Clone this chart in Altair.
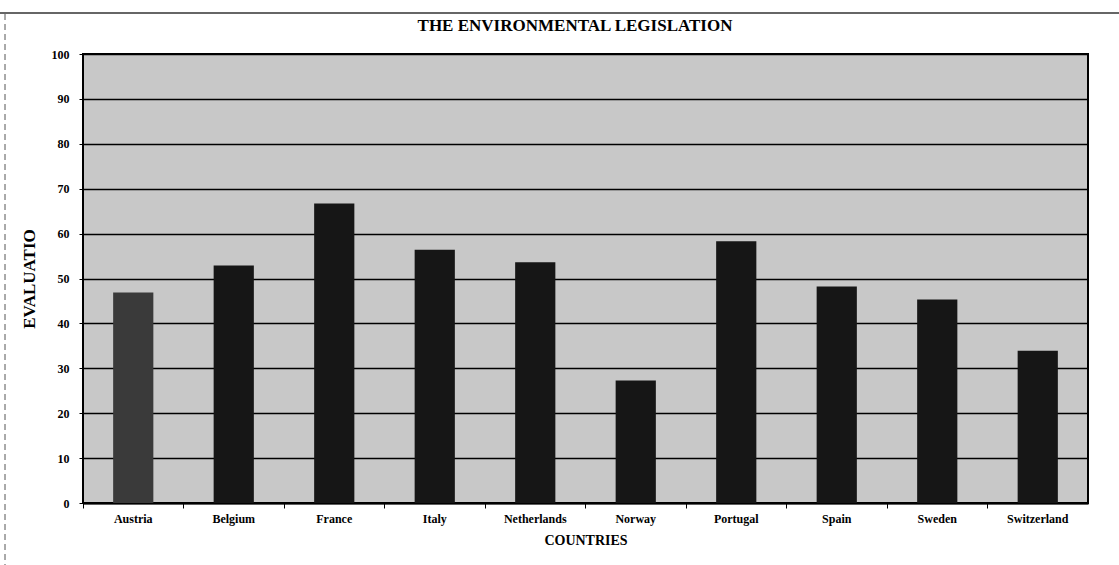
import altair as alt
import pandas as pd

countries = ["Austria", "Belgium", "France", "Italy", "Netherlands",
             "Norway", "Portugal", "Spain", "Sweden", "Switzerland"]
values = [46.9, 52.9, 66.7, 56.4, 53.6, 27.3, 58.3, 48.2, 45.3, 33.9]
y_ticks = [0, 10, 20, 30, 40, 50, 60, 70, 80, 90, 100]
title_text = "THE ENVIRONMENTAL LEGISLATION"

df = pd.DataFrame({"country": countries, "value": values})

FONT = "Liberation Serif"

x_scale = alt.Scale(domain=countries, paddingInner=0, paddingOuter=0)
y_scale = alt.Scale(domain=[0, 100], nice=False)

bars = alt.Chart(df).mark_bar(width=alt.RelativeBandSize(0.4)).encode(
    x=alt.X("country:N", scale=x_scale, sort=countries,
            axis=alt.Axis(orient="bottom", title="COUNTRIES", ticks=False,
                          labelAngle=0, labelFont=FONT, labelFontWeight="bold",
                          labelFontSize=12, labelColor="black", labelPadding=10,
                          titleFont=FONT, titleFontWeight="bold", titleFontSize=14,
                          titleColor="black", titlePadding=9,
                          domain=True, domainColor="black", domainWidth=2)),
    y=alt.Y("value:Q", scale=y_scale,
            axis=alt.Axis(values=y_ticks, title="EVALUATIO", grid=True,
                          gridColor="black", gridWidth=1.6, gridOpacity=1,
                          domain=False, tickSize=4, tickColor="black",
                          labelFont=FONT, labelFontWeight="bold", labelFontSize=12,
                          labelColor="black", labelPadding=10,
                          titleFont=FONT, titleFontWeight="bold", titleFontSize=17,
                          titleColor="black", titlePadding=13)),
    color=alt.condition(alt.datum.country == "Austria",
                        alt.value("#3a3a3a"), alt.value("#161616")),
)

ticks = alt.Chart(df).mark_bar(opacity=0).encode(
    x=alt.X("country:N", scale=x_scale, sort=countries,
            axis=alt.Axis(orient="bottom", title=None, labels=False, ticks=True,
                          bandPosition=0, tickSize=5, tickColor="black",
                          tickWidth=1, domain=False)),
)

one = pd.DataFrame({"k": [0]})
left_dash = alt.Chart(one).mark_rule(color="#555555", strokeWidth=1,
                                     strokeDash=[6, 4]).encode(
    x=alt.value(-78), y=alt.value(-40), y2=alt.value(511))
top_line = alt.Chart(one).mark_rule(color="#333333", strokeWidth=1.5).encode(
    x=alt.value(-83), x2=alt.value(1036), y=alt.value(-41))
title = alt.Chart(one).mark_text(font=FONT, fontWeight="bold", fontSize=17,
                                 color="black", align="center",
                                 baseline="middle").encode(
    x=alt.value(492), y=alt.value(-28), text=alt.value(title_text))

chart = alt.layer(bars, ticks, left_dash, top_line, title).resolve_axis(
    x="independent"
).properties(
    width=1005,
    height=449,
    autosize=alt.AutoSizeParams(type="none"),
    padding={"left": 83, "top": 54, "right": 31, "bottom": 62},
    background="white",
).configure_view(
    fill="#c8c8c8", stroke="black", strokeWidth=2
)

chart.save("out.html", embed_options={"renderer": "svg", "actions": False})
